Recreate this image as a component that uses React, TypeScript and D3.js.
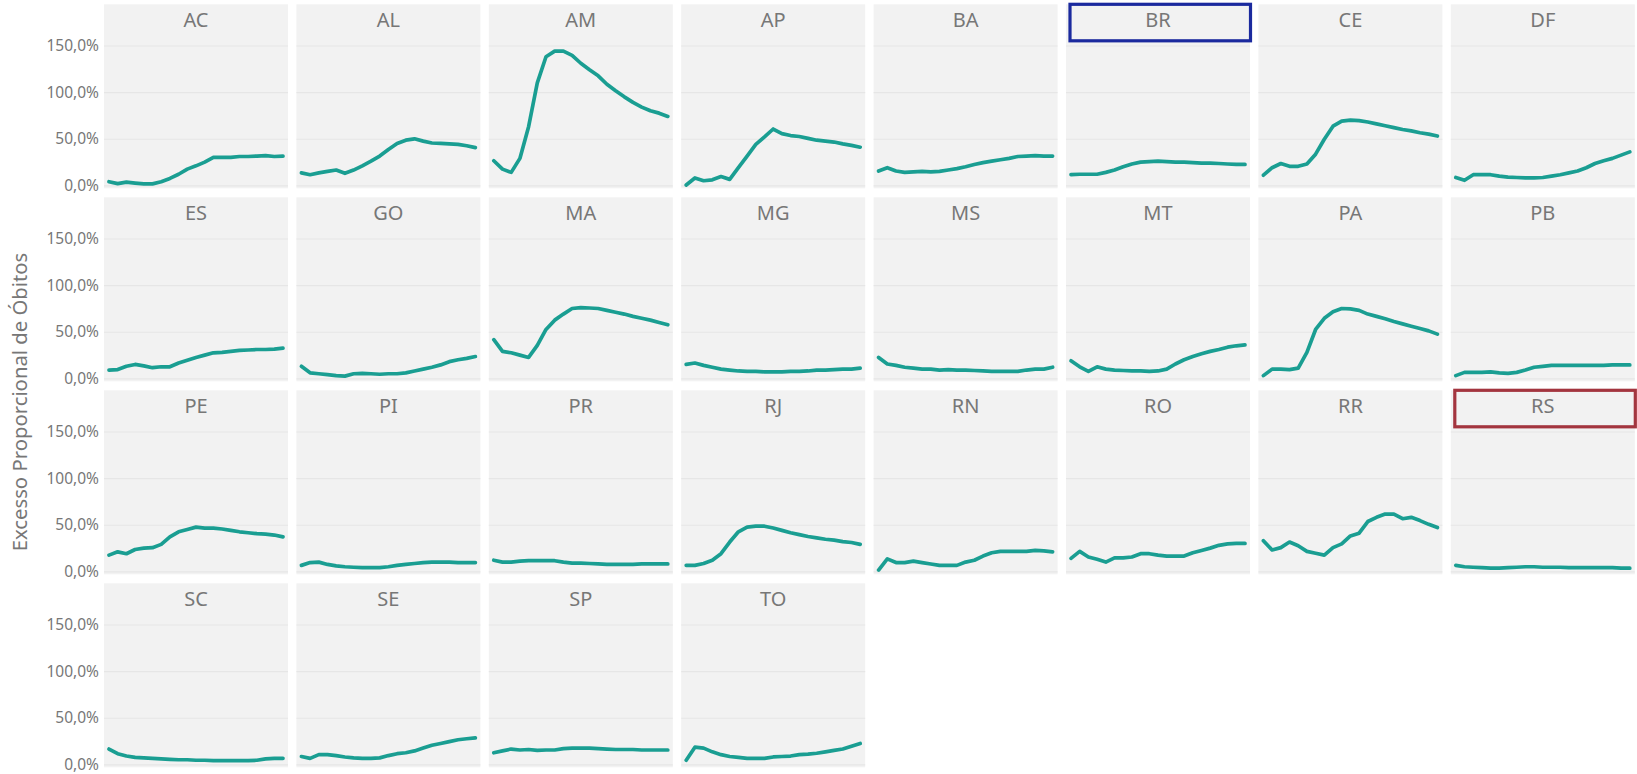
import React, { useEffect } from 'react'
import * as d3 from 'd3'

// weekly points along the x axis (no tick labels are shown)
const weeks = [0, 1, 2, 3, 4, 5, 6, 7, 8, 9, 10, 11, 12, 13, 14, 15, 16, 17, 18, 19, 20]

const states = [
  'AC', 'AL', 'AM', 'AP', 'BA', 'BR', 'CE', 'DF',
  'ES', 'GO', 'MA', 'MG', 'MS', 'MT', 'PA', 'PB',
  'PE', 'PI', 'PR', 'RJ', 'RN', 'RO', 'RR', 'RS',
  'SC', 'SE', 'SP', 'TO',
]

// excesso proporcional de óbitos, in %
const AC = [4.5, 2.5, 4, 3, 2.2, 2.2, 4.5, 8, 12.5, 18, 21.5, 25.5, 30.5, 30.5, 30.5, 31.5, 31.5, 32, 32.5, 31.5, 32]
const AL = [14, 12, 14, 15.5, 17, 13.5, 17, 21.5, 26.5, 32, 39, 45.5, 49, 50.5, 48, 46, 45.5, 45, 44.5, 43, 41]
const AM = [27, 18, 14.5, 29.5, 63.5, 110.5, 138.5, 144.5, 144.5, 140, 131.5, 124.5, 118, 109, 102, 95.5, 89.5, 84.5, 80.5, 78, 74.5]
const AP = [1, 8.5, 5.5, 6.5, 10, 7, 19.5, 32, 44.5, 52.5, 61, 56, 54, 53, 51, 49, 48, 47, 45, 43.5, 41.5]
const BA = [16, 19.5, 16, 14.5, 15, 15.5, 15, 15.5, 17, 18.5, 20.5, 23, 25, 26.5, 28, 29.5, 31.5, 32, 32.5, 32, 32]
const BR = [12, 12.5, 12.5, 12.5, 14.5, 17, 20.5, 23.5, 25.5, 26, 26.5, 26, 25.5, 25.5, 25, 24.5, 24.5, 24, 23.5, 23, 23]
const CE = [11.5, 19.5, 24, 21, 21, 23.5, 34, 50, 64, 69.5, 70.5, 70, 68.5, 66.5, 64.5, 62.5, 60.5, 59, 57, 55.5, 53.5]
const DF = [9, 6, 12, 12, 12, 10.5, 9.5, 9, 8.5, 8.5, 9, 10.5, 12, 14, 16, 19.5, 24, 27, 29.5, 33, 36.5]
const ES = [9.5, 10, 13.5, 15.5, 14, 12, 13, 13, 17, 20, 23, 25.5, 28, 28.5, 29.5, 30.5, 31, 31.5, 31.5, 32, 33]
const GO = [13.5, 6.5, 5.5, 4.5, 3.5, 3, 5.5, 6, 5.5, 5, 5.5, 5.5, 6.5, 8.5, 10.5, 12.5, 15, 18.5, 20.5, 22, 24]
const MA = [42, 29.5, 28, 25.5, 23, 36, 53, 63, 69.5, 75.5, 76.5, 76, 75.5, 73.5, 71.5, 69.5, 67, 65, 63, 60.5, 58]
const MG = [15.5, 17, 14.5, 12.5, 10.5, 9.5, 8.5, 8, 8, 7.5, 7.5, 7.5, 8, 8, 8.5, 9.5, 9.5, 10, 10.5, 10.5, 11.5]
const MS = [23, 16, 14.5, 12.5, 11.5, 10.5, 10.5, 9.5, 10, 9.5, 9.5, 9, 8.5, 8, 8, 8, 8, 9.5, 10.5, 10.5, 12.5]
const MT = [19.5, 13, 8, 13, 10.5, 9.5, 9, 8.5, 8.5, 8, 8.5, 10.5, 16, 20.5, 24, 27, 29.5, 31.5, 34, 35.5, 36.5]
const PA = [3.5, 10.5, 10.5, 10, 11.5, 28.5, 53, 65, 72, 75.5, 75, 73.5, 69.5, 67, 64.5, 61.5, 59, 56.5, 54, 51.5, 48]
const PB = [3.5, 7, 7, 7, 7.5, 6.5, 6, 7, 9.5, 12.5, 13.5, 14.5, 14.5, 14.5, 14.5, 14.5, 14.5, 14.5, 15, 15, 15]
const PE = [18, 21.5, 19.5, 24, 25.5, 26, 29.5, 37.5, 43, 45.5, 48, 47, 47, 46, 44.5, 43, 42, 41, 40.5, 39.5, 37.5]
const PI = [7, 10, 10.5, 8, 6.5, 5.5, 5, 4.5, 4.5, 4.5, 5.5, 7, 8, 9, 10, 10.5, 10.5, 10.5, 10, 10, 10]
const PR = [12.5, 10.5, 10.5, 11.5, 12, 12, 12, 12, 10.5, 9.5, 9.5, 9, 8.5, 8, 8, 8, 8, 8.5, 8.5, 8.5, 8.5]
const RJ = [7, 7, 9, 12.5, 19.5, 32, 43, 48, 49, 49, 47, 44.5, 42, 40, 38, 36.5, 35, 34, 32.5, 31.5, 29.5]
const RN = [2, 14, 10, 10, 11.5, 10, 8.5, 7, 7, 7, 10.5, 12.5, 17, 20.5, 22, 22, 22, 22, 23, 22.5, 21.5]
const RO = [14.5, 22, 16, 13.5, 10.5, 15, 15, 16, 19.5, 19.5, 18, 17, 17, 17, 20.5, 23, 25.5, 28.5, 30, 30.5, 30.5]
const RR = [33.5, 23.5, 26, 32, 28, 22, 20, 18, 26, 30, 38.5, 41.5, 54, 58.5, 62, 62, 57, 58.5, 55, 51, 47.5]
const RS = [7, 5.5, 5, 4.5, 4, 4, 4.5, 5, 5.5, 5.5, 5, 5, 5, 4.5, 4.5, 4.5, 4.5, 4.5, 4.5, 4, 4]
const SC = [17, 12, 9.5, 8, 7.5, 7, 6.5, 6, 5.5, 5.5, 5, 5, 4.5, 4.5, 4.5, 4.5, 4.5, 5, 6.5, 7, 7]
const SE = [9, 7, 11, 11, 10, 8.5, 7.5, 7, 7, 7.5, 10, 12, 13, 15, 18, 21, 23, 25, 27, 28, 29]
const SP = [13, 15, 17, 16, 16.5, 15.5, 16, 16, 17.5, 18, 18, 18, 17.5, 17, 16.5, 16.5, 16.5, 16, 16, 16, 16]
const TO = [5, 19, 18, 14, 11, 9, 8, 7, 7, 7, 8.5, 9, 9.5, 11, 11.5, 12.5, 14, 15.5, 17, 20, 23]

const seriesByState: Record<string, number[]> = {
  AC, AL, AM, AP, BA, BR, CE, DF, ES, GO, MA, MG, MS, MT,
  PA, PB, PE, PI, PR, RJ, RN, RO, RR, RS, SC, SE, SP, TO,
}

const yTicks = [0, 50, 100, 150]
const boxedStates: Record<string, string> = { BR: '#1b2a9e', RS: '#a3353f' }

const W = 1637
const H = 774
const COLS = 8
const LEFT = 104
const COL_STEP = 192.4
const PANEL_W = 184
const TOP = 4.3
const ROW_STEP = 193
const PANEL_H = 184

const FONT = '"Segoe UI", "Noto Sans", sans-serif'
const TEXT = '#777777'
const LINE = '#1a9e92'

const ptBR = d3.formatLocale({ decimal: ',', thousands: '.', grouping: [3], currency: ['R$', ''] })
const fmt = (v: number) => ptBR.format('.1f')(v) + '%'

export default function App() {
  useEffect(() => {
    document.body.style.margin = '0'
  }, [])

  const x = d3.scaleLinear().domain([weeks[0], weeks[weeks.length - 1]]).range([5, PANEL_W - 5])
  const y = d3.scaleLinear().domain([0, 150]).range([181.6, 41.7])
  const line = d3.line<number>()
    .x((_, i) => x(weeks[i]))
    .y(d => y(d))

  const rows = Math.ceil(states.length / COLS)

  return (
    <svg width={W} height={H} style={{ position: 'absolute', left: 0, top: 0, display: 'block' }}>
      <rect width={W} height={H} fill="#ffffff" />

      {/* axis title */}
      <text
        transform={`translate(22, 402) rotate(-90)`}
        textAnchor="middle"
        dominantBaseline="middle"
        fontFamily={FONT}
        fontSize={20.3}
        fill={TEXT}
      >
        Excesso Proporcional de Óbitos
      </text>

      {/* y tick labels per row */}
      {d3.range(rows).map(r => (
        <g key={'yl' + r} transform={`translate(0, ${TOP + r * ROW_STEP})`}>
          {yTicks.map(t => (
            <text
              key={t}
              x={99}
              y={y(t)}
              dy="0.33em"
              textAnchor="end"
              fontFamily={FONT}
              fontSize={15.5}
              fill={TEXT}
            >
              {fmt(t)}
            </text>
          ))}
        </g>
      ))}

      {states.map((s, k) => {
        const col = k % COLS
        const row = Math.floor(k / COLS)
        const px = LEFT + col * COL_STEP
        const py = TOP + row * ROW_STEP
        const box = boxedStates[s]
        return (
          <g key={s} transform={`translate(${px}, ${py})`}>
            <rect width={PANEL_W} height={PANEL_H} fill="#f2f2f2" />
            {yTicks.map(t => (
              <line key={t} x1={0} x2={PANEL_W} y1={y(t)} y2={y(t)} stroke="#e6e6e6" strokeWidth={1.2} />
            ))}
            <text
              x={PANEL_W / 2}
              y={22.6}
              textAnchor="middle"
              fontFamily={FONT}
              fontSize={20}
              fill={TEXT}
            >
              {s}
            </text>
            {box && (
              <rect
                x={4}
                y={0}
                width={180.5}
                height={36.5}
                fill="none"
                stroke={box}
                strokeWidth={3.2}
              />
            )}
            <path
              d={line(seriesByState[s]) || ''}
              fill="none"
              stroke={LINE}
              strokeWidth={3.7}
              strokeLinejoin="round"
              strokeLinecap="round"
            />
          </g>
        )
      })}
    </svg>
  )
}
